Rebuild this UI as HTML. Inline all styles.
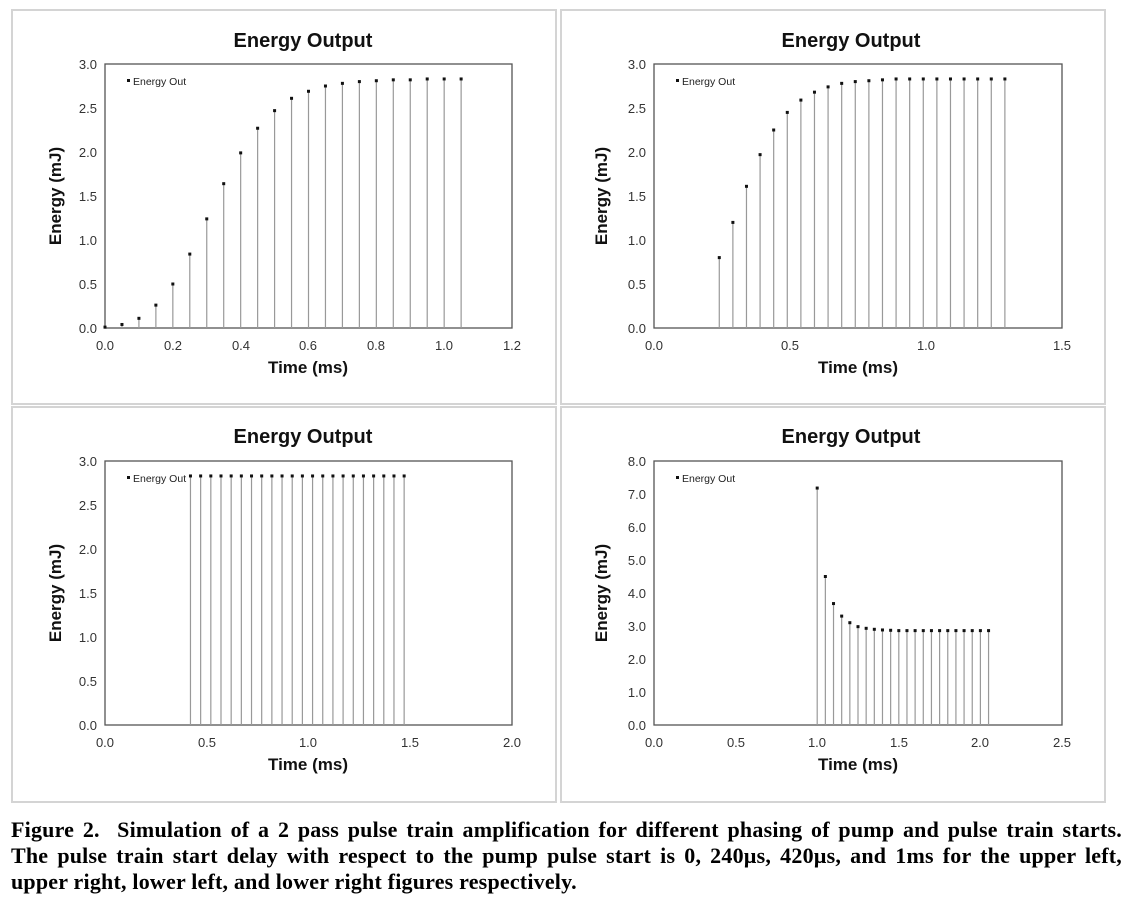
<!DOCTYPE html>
<html><head><meta charset="utf-8"><style>
html,body{margin:0;padding:0;background:#fff;width:1137px;height:907px;overflow:hidden}
svg{position:absolute;left:0;top:0}
.cap{position:absolute;left:11px;top:817px;width:1111px;font-family:"Liberation Serif",serif;font-weight:bold;font-size:22px;line-height:26px;color:#000;letter-spacing:0.2px}
.cap div{white-space:nowrap}
.cap .j{text-align:justify;text-align-last:justify}
text{font-family:"Liberation Sans",sans-serif}
.t{font-size:20px;font-weight:bold;text-anchor:middle;fill:#111}
.k{font-size:13px;fill:#333}
.yk{text-anchor:end}
.xk{text-anchor:middle}
.al{font-size:17px;font-weight:bold;fill:#111;text-anchor:middle}
.lg{font-size:10.5px;fill:#222}
</style></head><body>
<svg id="s" width="1137" height="907" xmlns="http://www.w3.org/2000/svg">
<g fill="none" stroke="#d4d4d4" stroke-width="2">
<rect x="12" y="10" width="544" height="394"/>
<rect x="561" y="10" width="544" height="394"/>
<rect x="12" y="407" width="544" height="395"/>
<rect x="561" y="407" width="544" height="395"/>
</g>
<g fill="none" stroke="#555" stroke-width="1.3">
<rect x="105" y="64" width="407" height="264"/>
<rect x="654" y="64" width="408" height="264"/>
<rect x="105" y="461" width="407" height="264"/>
<rect x="654" y="461" width="408" height="264"/>
</g>
<text class="t" x="303" y="47">Energy Output</text>
<text class="t" x="851" y="47">Energy Output</text>
<text class="t" x="303" y="443">Energy Output</text>
<text class="t" x="851" y="443">Energy Output</text>
<g class="k yk"><text x="97" y="69">3.0</text><text x="97" y="113">2.5</text><text x="97" y="157">2.0</text><text x="97" y="201">1.5</text><text x="97" y="245">1.0</text><text x="97" y="289">0.5</text><text x="97" y="333">0.0</text></g>
<g class="k xk"><text x="105" y="350">0.0</text><text x="173" y="350">0.2</text><text x="241" y="350">0.4</text><text x="308" y="350">0.6</text><text x="376" y="350">0.8</text><text x="444" y="350">1.0</text><text x="512" y="350">1.2</text></g>
<text class="al" x="308" y="373">Time (ms)</text>
<text class="al" transform="translate(61,196) rotate(-90)">Energy (mJ)</text>
<text class="lg" x="133" y="85">Energy Out</text><rect x="127" y="79" width="3" height="3" fill="#111"/>
<g class="k yk"><text x="646" y="69">3.0</text><text x="646" y="113">2.5</text><text x="646" y="157">2.0</text><text x="646" y="201">1.5</text><text x="646" y="245">1.0</text><text x="646" y="289">0.5</text><text x="646" y="333">0.0</text></g>
<g class="k xk"><text x="654" y="350">0.0</text><text x="790" y="350">0.5</text><text x="926" y="350">1.0</text><text x="1062" y="350">1.5</text></g>
<text class="al" x="858" y="373">Time (ms)</text>
<text class="al" transform="translate(607,196) rotate(-90)">Energy (mJ)</text>
<text class="lg" x="682" y="85">Energy Out</text><rect x="676" y="79" width="3" height="3" fill="#111"/>
<g class="k yk"><text x="97" y="466">3.0</text><text x="97" y="510">2.5</text><text x="97" y="554">2.0</text><text x="97" y="598">1.5</text><text x="97" y="642">1.0</text><text x="97" y="686">0.5</text><text x="97" y="730">0.0</text></g>
<g class="k xk"><text x="105" y="747">0.0</text><text x="207" y="747">0.5</text><text x="308" y="747">1.0</text><text x="410" y="747">1.5</text><text x="512" y="747">2.0</text></g>
<text class="al" x="308" y="770">Time (ms)</text>
<text class="al" transform="translate(61,593) rotate(-90)">Energy (mJ)</text>
<text class="lg" x="133" y="482">Energy Out</text><rect x="127" y="476" width="3" height="3" fill="#111"/>
<g class="k yk"><text x="646" y="466">8.0</text><text x="646" y="499">7.0</text><text x="646" y="532">6.0</text><text x="646" y="565">5.0</text><text x="646" y="598">4.0</text><text x="646" y="631">3.0</text><text x="646" y="664">2.0</text><text x="646" y="697">1.0</text><text x="646" y="730">0.0</text></g>
<g class="k xk"><text x="654" y="747">0.0</text><text x="736" y="747">0.5</text><text x="817" y="747">1.0</text><text x="899" y="747">1.5</text><text x="980" y="747">2.0</text><text x="1062" y="747">2.5</text></g>
<text class="al" x="858" y="770">Time (ms)</text>
<text class="al" transform="translate(607,593) rotate(-90)">Energy (mJ)</text>
<text class="lg" x="682" y="482">Energy Out</text><rect x="676" y="476" width="3" height="3" fill="#111"/>
<g id="d"></g>
</svg>
<div class="cap">
<div class="j">Figure 2.&nbsp; Simulation of a 2 pass pulse train amplification for different phasing of pump and pulse train starts.</div>
<div class="j">The pulse train start delay with respect to the pump pulse start is 0, 240µs, 420µs, and 1ms for the upper left,</div>
<div>upper right, lower left, and lower right figures respectively.</div>
</div>
<script>
var g=document.getElementById('d'),h='';
function P(x0,sx,t0,y0,sy,vals){vals.forEach(function(v,i){var x=x0+(t0+0.05*i)*sx,y=y0-v*sy;
h+='<line x1="'+x+'" x2="'+x+'" y1="'+y0+'" y2="'+y+'" stroke="#999" stroke-width="1.2"/><rect x="'+(x-1.5)+'" y="'+(y-1.5)+'" width="3" height="3" fill="#111"/>';});}
var tl=[0.01,0.04,0.11,0.26,0.5,0.84,1.24,1.64,1.99,2.27,2.47,2.61,2.69,2.75,2.78,2.80,2.81,2.82,2.82,2.83,2.83,2.83];
var tr=[0.8,1.2,1.61,1.97,2.25,2.45,2.59,2.68,2.74,2.78,2.80,2.81,2.82,2.83,2.83,2.83,2.83,2.83,2.83,2.83,2.83,2.83];
var bl=[];for(var i=0;i<22;i++)bl.push(2.83);
var br=[7.18,4.5,3.68,3.3,3.1,2.98,2.93,2.9,2.88,2.87,2.86,2.86,2.86,2.86,2.86,2.86,2.86,2.86,2.86,2.86,2.86,2.86];
P(105,339.17,0,328,88,tl);P(654,272,0.24,328,88,tr);P(105,203.5,0.42,725,88,bl);P(654,163.2,1.0,725,33,br);
g.innerHTML=h;
</script>
</body></html>
